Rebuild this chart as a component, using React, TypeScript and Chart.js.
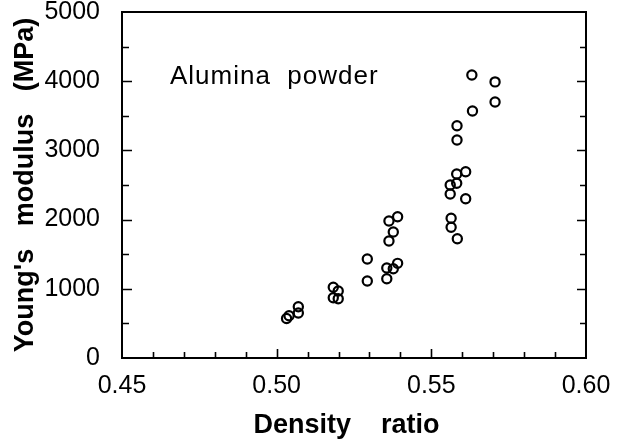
import React, { useEffect, useRef } from "react";
import { Chart, registerables } from "chart.js";

Chart.register(...registerables);

// Data
const densityRatio = [
  0.5032, 0.504, 0.507, 0.507, 0.5183, 0.5199, 0.5183, 0.5199, 0.5293, 0.5293,
  0.5356, 0.5377, 0.5356, 0.5391, 0.5363, 0.5377, 0.5363, 0.5391, 0.5564, 0.5564,
  0.5584, 0.5561, 0.5561, 0.5611, 0.5582, 0.5582, 0.5611, 0.5583, 0.5583, 0.5633,
  0.5631, 0.5706, 0.5706,
];
const youngsModulus = [
  570, 610, 740, 650, 1022, 968, 871, 857, 1431, 1113, 1146, 1290, 1301, 1368, 1691,
  1821, 1980, 2042, 2019, 1889, 1724, 2500, 2370, 2302, 2659, 2525, 2692, 3357, 3150,
  3569, 4090, 3990, 3700,
];

const xTickValues = [0.45, 0.5, 0.55, 0.6];
const xTickLabels = ["0.45", "0.50", "0.55", "0.60"];
const xMinorStep = 0.01;
const yTickValues = [0, 1000, 2000, 3000, 4000, 5000];
const yMinorStep = 500;

const xTitle = "Density    ratio  ";
const yTitle = "Young's   modulus   (MPa)";
const annotationText = "Alumina  powder";
const annotationAt = { x: 0.4655, y: 4070 };

const FONT = "'Liberation Sans', Arial, Helvetica, sans-serif";

const framePlugin = {
  id: "frame",
  afterDatasetsDraw(chart: any) {
    const { ctx, chartArea } = chart;
    const xs = chart.scales.x;
    const ys = chart.scales.y;
    const { left, right, top, bottom } = chartArea;
    ctx.save();
    ctx.strokeStyle = "#000";
    ctx.lineWidth = 2;
    ctx.strokeRect(left, top, right - left, bottom - top);
    ctx.lineWidth = 1.6;
    ctx.beginPath();
    const nx = Math.round((xs.max - xs.min) / xMinorStep);
    for (let i = 1; i < nx; i++) {
      const v = xs.min + i * xMinorStep;
      const px = Math.round(xs.getPixelForValue(v)) + 0.5;
      const major = i % 5 === 0;
      ctx.moveTo(px, bottom);
      ctx.lineTo(px, bottom - (major ? 9 : 6));
    }
    const ny = Math.round((ys.max - ys.min) / yMinorStep);
    for (let i = 1; i < ny; i++) {
      const v = ys.min + i * yMinorStep;
      const py = Math.round(ys.getPixelForValue(v)) + 0.5;
      const major = i % 2 === 0;
      ctx.moveTo(left, py);
      ctx.lineTo(left + (major ? 10 : 7), py);
      ctx.moveTo(right, py);
      ctx.lineTo(right - (major ? 9 : 6), py);
    }
    ctx.stroke();
    ctx.fillStyle = "#000";
    ctx.font = `26px ${FONT}`;
    try {
      (ctx as any).letterSpacing = "1px";
    } catch (e) {}
    ctx.textAlign = "left";
    ctx.textBaseline = "middle";
    ctx.fillText(
      annotationText,
      xs.getPixelForValue(annotationAt.x),
      ys.getPixelForValue(annotationAt.y)
    );
    ctx.restore();
  },
};

export default function App() {
  const ref = useRef<HTMLCanvasElement | null>(null);
  useEffect(() => {
    if (!ref.current) return;
    const points = densityRatio.map((d, i) => ({ x: d, y: youngsModulus[i] }));
    const chart = new Chart(ref.current, {
      type: "scatter",
      data: {
        datasets: [
          {
            data: points,
            pointStyle: "circle",
            pointRadius: 4.6,
            pointBorderWidth: 2.2,
            pointBorderColor: "#000",
            pointBackgroundColor: "rgba(0,0,0,0)",
            showLine: false,
          },
        ],
      },
      options: {
        responsive: false,
        animation: false,
        devicePixelRatio: 1,
        layout: { padding: { top: 12, right: 32, left: 0, bottom: 0 } },
        plugins: { legend: { display: false }, tooltip: { enabled: false } },
        scales: {
          x: {
            type: "linear",
            min: 0.45,
            max: 0.6,
            grid: { display: false },
            border: { display: false },
            afterBuildTicks(s: any) {
              s.ticks = xTickValues.map((v) => ({ value: v }));
            },
            ticks: {
              color: "#000",
              font: { family: FONT, size: 25 },
              padding: 5,
              maxRotation: 0,
              autoSkip: false,
              callback: (v: any) => {
                const i = xTickValues.findIndex((t) => Math.abs(t - v) < 1e-9);
                return i >= 0 ? xTickLabels[i] : "";
              },
            },
            title: {
              display: true,
              text: xTitle,
              color: "#000",
              font: { family: FONT, size: 27, weight: "bold" },
              padding: { top: 0, bottom: 3 },
            },
            afterFit(s: any) {
              s.height = 87;
              s.paddingLeft = 0;
              s.paddingRight = 0;
            },
          },
          y: {
            type: "linear",
            min: 0,
            max: 5000,
            grid: { display: false },
            border: { display: false },
            afterBuildTicks(s: any) {
              s.ticks = yTickValues.map((v) => ({ value: v }));
            },
            ticks: {
              color: "#000",
              font: { family: FONT, size: 25 },
              padding: 14,
              autoSkip: false,
              callback: (v: any) => String(v),
            },
            title: {
              display: true,
              text: yTitle,
              color: "#000",
              font: { family: FONT, size: 27, weight: "bold" },
              padding: { top: 9, bottom: 0 },
            },
            afterFit(s: any) {
              s.width = 122;
              s.paddingTop = 0;
              s.paddingBottom = 0;
            },
          },
        },
      },
      plugins: [framePlugin],
    });
    return () => chart.destroy();
  }, []);
  return (
    <div style={{ position: "absolute", left: 0, top: 0, background: "#fff" }}>
      <canvas ref={ref} width={618} height={445} style={{ display: "block" }} />
    </div>
  );
}
